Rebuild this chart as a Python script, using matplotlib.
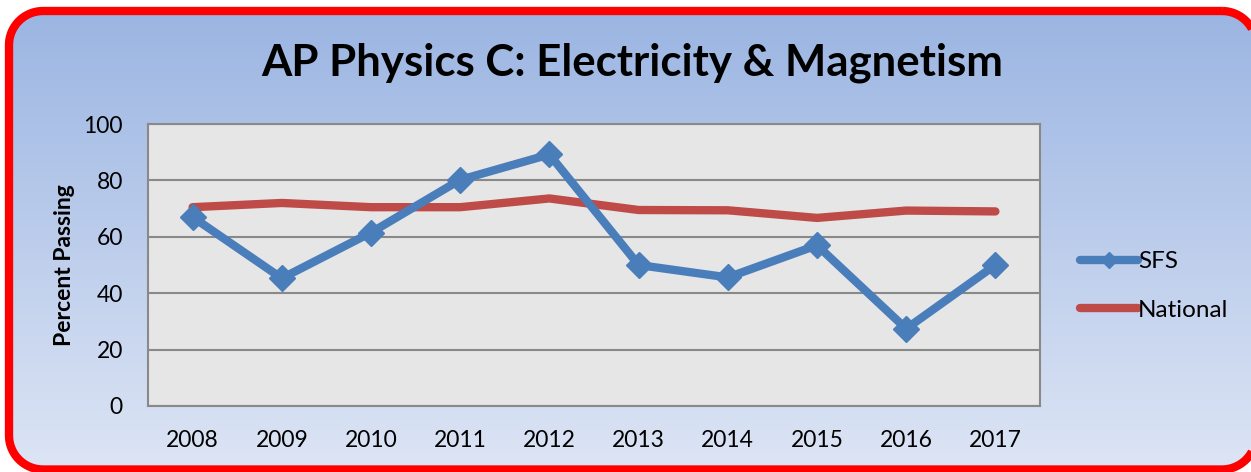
import matplotlib
matplotlib.use("Agg")
import matplotlib.pyplot as plt
import numpy as np
from matplotlib.patches import Polygon

plt.rcParams['font.family'] = ['Lato', 'DejaVu Sans']

years = ['2008', '2009', '2010', '2011', '2012', '2013', '2014', '2015', '2016', '2017']
sfs = [67, 45.3, 61.5, 80.2, 89.2, 50, 45.6, 57, 27.4, 50]
national = [70.5, 72, 70.5, 70.5, 73.6, 69.5, 69.4, 66.7, 69.3, 69]

W, H = 1251, 472
fig = plt.figure(figsize=(W / 100, H / 100), dpi=100)
fig.patch.set_facecolor('white')


def rounded_rect(x0, y0, x1, y1, r, n=20):
    # polyline outline of a rounded rectangle (pixel coords, y down)
    pts = []
    corners = [(x1 - r, y0 + r, -90, 0), (x1 - r, y1 - r, 0, 90),
               (x0 + r, y1 - r, 90, 180), (x0 + r, y0 + r, 180, 270)]
    for cx, cy, a0, a1 in corners:
        t = np.radians(np.linspace(a0, a1, n))
        pts += list(zip(cx + r * np.cos(t), cy + r * np.sin(t)))
    return np.array(pts)


# background with gradient and red rounded frame
bg = fig.add_axes([0, 0, 1, 1])
grad = np.linspace(0, 1, 256).reshape(-1, 1)
top = np.array([0x9B, 0xB5, 0xE2]) / 255
bot = np.array([0xDD, 0xE5, 0xF5]) / 255
img = top + (bot - top) * grad[:, :, None]
x0, y0, x1, y1 = 9, 11, 1256, 469.5
im = bg.imshow(img, extent=[x0, x1, y1, y0], aspect='auto', zorder=0)
frame = Polygon(rounded_rect(x0, y0, x1, y1, 34), closed=True, fc='none', ec='#FF0000',
                lw=6, zorder=2)
bg.add_patch(frame)
im.set_clip_path(frame)
bg.set_xlim(0, W)
bg.set_ylim(H, 0)
bg.axis('off')

bg.text(632, 63, 'AP Physics C: Electricity & Magnetism', ha='center', va='center',
        fontsize=31.5, fontweight='bold', color='black')

ax = fig.add_axes([148 / W, (H - 406) / H, 892 / W, 282 / H])
ax.set_facecolor('#E6E6E6')
x = np.arange(len(years))
ax.plot(x, national, color='#BE4B48', lw=6, solid_capstyle='round', label='National', zorder=3)
ax.plot(x, sfs, color='#4A7EBB', lw=6, marker='D', markersize=13, solid_capstyle='round',
        label='SFS', zorder=4)
ax.set_xlim(-0.5, len(years) - 0.5)
ax.set_ylim(0, 100)
ax.set_yticks([0, 20, 40, 60, 80, 100])
ax.set_xticks(x)
ax.set_xticklabels(years)
ax.yaxis.grid(True, color='#898989', lw=1.5)
ax.set_axisbelow(True)
for s in ax.spines.values():
    s.set_color('#898989')
    s.set_linewidth(1.5)
ax.tick_params(length=0, labelsize=16.5)
ax.tick_params(axis='x', pad=17)
ax.tick_params(axis='y', pad=18)
ax.set_ylabel('Percent Passing', fontsize=16.5, fontweight='bold', labelpad=6)

h, l = ax.get_legend_handles_labels()
leg = fig.legend([h[1], h[0]], [l[1], l[0]], loc='center left', bbox_to_anchor=(1058 / W, 1 - 286 / H),
                 frameon=False, fontsize=17.5, handlelength=2.4, handletextpad=0.0, labelspacing=1.15,
                 markerscale=0.6)

fig.savefig('out.png', dpi=100)
